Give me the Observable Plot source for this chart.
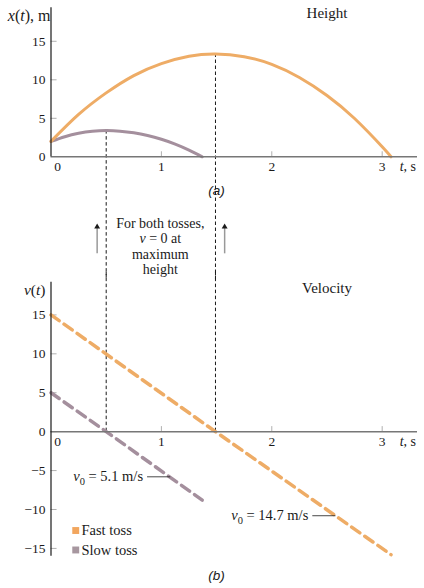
<!DOCTYPE html>
<html><head><meta charset="utf-8">
<script src="https://cdn.jsdelivr.net/npm/d3@7"></script>
<script src="https://cdn.jsdelivr.net/npm/@observablehq/plot@0.6"></script>
<style>
body{margin:0;background:#fff;}
#chart{width:424px;height:588px;position:relative;overflow:hidden;}
#chart svg{display:block;overflow:visible;}
</style></head><body><div id="chart"></div>
<script>
// ---- data ----
const seriesNames = ["Fast toss", "Slow toss"];
const lineColors = ["#eeac66", "#a48f9d"];
const legendColors = ["#f2a65e", "#a7979f"];

// (a) Height x(t), m
const fastT = [0, 0.25, 0.5, 0.75, 1, 1.25, 1.49, 1.75, 2, 2.25, 2.5, 2.75, 3, 3.08];
const fastX = [2.0, 5.5, 8.3, 10.55, 12.1, 13.06, 13.35, 13.0, 12.0, 10.3, 7.96, 4.97, 1.3, 0];
const slowT = [0, 0.125, 0.25, 0.375, 0.5, 0.625, 0.75, 0.875, 1, 1.125, 1.25, 1.37];
const slowX = [2.0, 2.61, 3.05, 3.31, 3.4, 3.33, 3.12, 2.77, 2.28, 1.65, 0.87, 0];

// (b) Velocity v(t), m/s
const fastVT = [0, 1.49, 3.08];
const fastV = [15, 0, -15.8];
const slowVT = [0, 0.5, 1.37];
const slowV = [5, 0, -8.8];

// maximum height instants
const peakT = [0.5, 1.49];
const peakX = [3.4, 13.35];

// ticks
const xTicks = [0, 1, 2, 3];
const xTickLabels = ["0", "1", "2", "3"];
const yTicksTop = [0, 5, 10, 15];
const yTickLabelsTop = ["0", "5", "10", "15"];
const yTicksBot = [15, 10, 5, 0, -5, -10, -15];
const yTickLabelsBot = ["15", "10", "5", "0", "\u22125", "\u221210", "\u221215"];

// annotations
const v0Labels = ["*v*_0 = 5.1 m/s", "*v*_0 = 14.7 m/s"];
const v0LeaderT1 = [0.87, 2.367];
const v0LeaderT2 = [1.08, 2.577];
const v0LeaderV = [-5.8, -10.8];
const noteText = "For both tosses,\n*v* = 0 at\nmaximum\nheight";
const arrowT = [0.418, 1.573];

// ---- build ----
const W = 424;
const xDomain = [0, 3.32];
const serif = "'Liberation Serif', 'Times New Roman', serif";
const fast = fastT.map((t, i) => ({t, x: fastX[i]}));
const slow = slowT.map((t, i) => ({t, x: slowX[i]}));
const fastVel = fastVT.map((t, i) => ({t, v: fastV[i]}));
const slowVel = slowVT.map((t, i) => ({t, v: slowV[i]}));
const peaks = peakT.map((t, i) => ({t, x: peakX[i]}));
const ink = "#1a1a1a";

function tickLabelMarks(yTicks, yLabels) {
  return [
    Plot.text(yTicks, {x: 0, y: d => d, text: (d, i) => yLabels[i], textAnchor: "end", dx: -5.5, fontSize: 13.5, fill: ink}),
    Plot.text(xTicks.slice(0, 1), {x: d => d, y: 0, text: (d, i) => xTickLabels[0], dx: 6.5, dy: 10, fontSize: 13.5, fill: ink}),
    Plot.text(xTicks.slice(1), {x: d => d, y: 0, text: (d, i) => xTickLabels[i + 1], dy: 10, fontSize: 13.5, fill: ink}),
    Plot.text(["*t*, s"], {x: xDomain[1], y: 0, text: d => d, textAnchor: "end", dx: -1.5, dy: 10, fontSize: 14, fill: ink})
  ];
}

const topPlot = Plot.plot({
  width: W, height: 276,
  marginLeft: 50.5, marginRight: 7, marginTop: 7.3, marginBottom: 119.7,
  x: {domain: xDomain, axis: null},
  y: {domain: [0, 19.35], axis: null},
  style: {fontFamily: serif, fontSize: "13px", background: "transparent", color: ink},
  marks: [
    Plot.ruleX(peaks, {x: "t", y1: "x", y2: -16, stroke: ink, strokeWidth: 1, strokeDasharray: "3.5,2.5"}),
    Plot.ruleY(yTicksTop.slice(1), {y: d => d, x1: 0, x2: 0.055, stroke: "#b0b0b0"}),
    Plot.ruleX(xTicks.slice(1), {x: d => d, y1: 0, y2: 0.65, stroke: "#b0b0b0"}),
    Plot.line(slow, {x: "t", y: "x", stroke: lineColors[1], strokeWidth: 3, curve: "natural"}),
    Plot.line(fast, {x: "t", y: "x", stroke: lineColors[0], strokeWidth: 3, curve: "natural"}),
    Plot.ruleY([0], {stroke: "#777", strokeWidth: 1.5}),
    Plot.ruleX([0], {stroke: ink, strokeWidth: 1.2}),
    ...tickLabelMarks(yTicksTop, yTickLabelsTop),
    Plot.text(["*x*(*t*), m"], {frameAnchor: "top-left", text: d => d, textAnchor: "end", lineAnchor: "middle", dx: -0.5, dy: 7.7, fontSize: 16, fill: ink}),
    Plot.text(["Height"], {x: 2.5, y: 18.6, text: d => d, fontSize: 15, fill: ink}),
    Plot.text(["(a)"], {x: 1.5, y: -4.4, text: d => d, fontFamily: "'Liberation Sans', sans-serif", fontStyle: "italic", fontSize: 13.5, fill: ink}),
    Plot.text([noteText], {x: 0.99, y: -11.6, text: d => d, lineHeight: 1.1, fontSize: 14, fill: ink}),
    Plot.ruleX(arrowT, {x: d => d, y1: -12.6, y2: -9.3, stroke: "#999", strokeWidth: 1.5}),
    Plot.dot(arrowT, {x: d => d, y: -9.1, symbol: "triangle", r: 2.2, fill: ink, stroke: null})
  ]
});

const botPlot = Plot.plot({
  width: W, height: 312,
  marginLeft: 50.5, marginRight: 7, marginTop: 5.7, marginBottom: 32.3,
  x: {domain: xDomain, axis: null},
  y: {domain: [-16, 19.2], axis: null},
  style: {fontFamily: serif, fontSize: "13px", background: "transparent", color: ink},
  marks: [
    Plot.ruleX(peakT, {x: d => d, y1: 0, y2: 20.5, stroke: ink, strokeWidth: 1, strokeDasharray: "3.5,2.5"}),
    Plot.ruleY(yTicksBot, {y: d => d, x1: 0, x2: 0.055, stroke: "#b0b0b0"}),
    Plot.ruleX(xTicks.slice(1), {x: d => d, y1: 0, y2: 0.65, stroke: "#b0b0b0"}),
    Plot.line(slowVel, {x: "t", y: "v", stroke: lineColors[1], strokeWidth: 3.5, strokeDasharray: "10,6"}),
    Plot.line(fastVel, {x: "t", y: "v", stroke: lineColors[0], strokeWidth: 3.5, strokeDasharray: "10,6"}),
    Plot.ruleY([0], {stroke: "#777", strokeWidth: 1.5}),
    Plot.ruleX([0], {stroke: ink, strokeWidth: 1.2}),
    ...tickLabelMarks(yTicksBot, yTickLabelsBot),
    Plot.text(["*v*(*t*)"], {frameAnchor: "top-left", text: d => d, textAnchor: "end", lineAnchor: "middle", dx: -5.5, dy: 7.6, fontSize: 15.5, fill: ink}),
    Plot.text(["Velocity"], {x: 2.5, y: 18.4, text: d => d, fontSize: 15, fill: ink}),
    Plot.text(["(b)"], {x: 1.5, y: -16, text: d => d, dy: 19, fontFamily: "'Liberation Sans', sans-serif", fontStyle: "italic", fontSize: 13.5, fill: ink}),
    Plot.link(v0Labels, {x1: (d, i) => v0LeaderT1[i], x2: (d, i) => v0LeaderT2[i], y1: (d, i) => v0LeaderV[i], y2: (d, i) => v0LeaderV[i], stroke: ink, strokeWidth: 0.8}),
    Plot.text(v0Labels, {x: (d, i) => v0LeaderT1[i], y: (d, i) => v0LeaderV[i], text: d => d, textAnchor: "end", dx: -4, fontSize: 14.5, fill: ink}),
    Plot.dot(seriesNames, {x: 0.224, y: (d, i) => [-12.7, -15.2][i], symbol: "square", r: 3.9, fill: (d, i) => legendColors[i], stroke: null}),
    Plot.text(seriesNames, {x: 0.276, y: (d, i) => [-12.7, -15.2][i], text: d => d, textAnchor: "start", fontSize: 14.5, fill: ink})
  ]
});

// rich text: *italic* and _subscript
const NS = "http://www.w3.org/2000/svg";
function richify(node) {
  const s = node.textContent;
  if (!/[*_]/.test(s)) return;
  node.textContent = "";
  let italic = false, buf = "", pendingUp = false;
  const flush = () => {
    if (!buf) return;
    const t = document.createElementNS(NS, "tspan");
    if (italic) t.setAttribute("font-style", "italic");
    if (pendingUp) { t.setAttribute("dy", "-3.5"); pendingUp = false; }
    t.textContent = buf; node.appendChild(t); buf = "";
  };
  for (let i = 0; i < s.length; i++) {
    const c = s[i];
    if (c === "*") { flush(); italic = !italic; }
    else if (c === "_") {
      flush();
      const sub = document.createElementNS(NS, "tspan");
      sub.setAttribute("dy", "3.5");
      sub.setAttribute("font-size", "0.72em");
      sub.textContent = s[i + 1];
      node.appendChild(sub);
      pendingUp = true; i++;
    } else buf += c;
  }
  flush();
}
for (const svg of [topPlot, botPlot]) {
  svg.querySelectorAll("text, tspan").forEach(el => {
    if (el.children.length === 0) richify(el);
  });
  document.getElementById("chart").appendChild(svg);
}
</script></body></html>
